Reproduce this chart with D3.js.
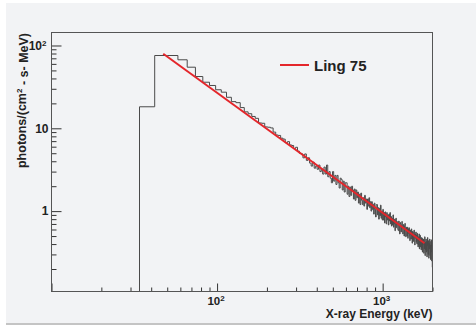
<!DOCTYPE html>
<html>
<head>
<meta charset="utf-8">
<script src="https://cdn.jsdelivr.net/npm/d3@7"></script>
<style>
  body { margin: 0; background: #fff; }
  text { font-family: "Liberation Sans", Arial, sans-serif; font-weight: bold; fill: #222; }
</style>
</head>
<body>
<div id="chart"></div>
<script>
// histogram: 8 keV bins starting at 10 keV
var binStart = 10, binWidth = 8;
var counts = [0, 0, 0,
  18.2, 75.7, 75.7, 67.2, 54.7, 42.2,
  36.0, 32.9, 29.2, 27.3, 23.7,
  21.0, 20.4, 17.8, 15.8, 15.0,
  13.9, 13.2, 11.6, 11.5, 10.4,
  10.3, 10.1, 9.0, 8.3, 8.2,
  7.6, 7.4, 6.7, 6.9, 6.3,
  6.2, 5.7, 5.9, 5.3, 5.0,
  4.9, 4.4, 4.9, 4.1, 4.4,
  3.8, 3.5, 3.9, 3.3, 3.5,
  3.2, 3.6, 3.0, 3.2, 2.8,
  3.4, 2.8, 3.6, 2.6, 3.0,
  2.5, 2.2, 3.0, 2.3, 2.7,
  2.1, 2.7, 2.2, 1.9, 2.5,
  2.4, 1.8, 2.3, 1.7, 2.2,
  2.2, 1.6, 2.0, 1.5, 1.95,
  1.55, 2.0, 1.8, 1.4, 1.85,
  1.35, 1.8, 1.45, 1.7, 1.25,
  1.6, 1.2, 1.65, 1.35, 1.2,
  1.45, 1.15, 1.55, 1.25, 1.4,
  1.05, 1.4, 1.15, 1.45, 1.1,
  1.3, 1.0, 1.3, 1.05, 1.2,
  0.92, 1.25, 1.05, 0.85, 1.2,
  1.2, 0.9, 1.1, 0.8, 1.08,
  0.88, 1.18, 0.82, 1.0, 0.78,
  1.05, 0.78, 0.96, 0.72, 0.98,
  0.85, 0.7, 0.96, 0.78, 0.9,
  0.68, 0.92, 0.76, 0.96, 0.7,
  0.86, 0.66, 0.82, 0.68, 0.9,
  0.64, 0.8, 0.7, 0.58, 0.8,
  0.82, 0.63, 0.75, 0.68, 0.6,
  0.58, 0.76, 0.68, 0.53, 0.73,
  0.7, 0.56, 0.66, 0.75, 0.58,
  0.53, 0.69, 0.62, 0.5, 0.67,
  0.71, 0.55, 0.49, 0.64, 0.57,
  0.5, 0.64, 0.47, 0.61, 0.54,
  0.63, 0.49, 0.44, 0.59, 0.52,
  0.46, 0.61, 0.52, 0.41, 0.57,
  0.56, 0.43, 0.5, 0.59, 0.45,
  0.39, 0.53, 0.47, 0.56, 0.42,
  0.51, 0.4, 0.54, 0.44, 0.37,
  0.49, 0.39, 0.53, 0.35, 0.46,
  0.51, 0.37, 0.44, 0.34, 0.48,
  0.36, 0.47, 0.32, 0.45, 0.4,
  0.46, 0.31, 0.42, 0.35, 0.49,
  0.29, 0.42, 0.34, 0.46, 0.32,
  0.43, 0.28, 0.38, 0.48, 0.33,
  0.3, 0.44, 0.27, 0.41, 0.35,
  0.46, 0.29, 0.39, 0.26, 0.43,
  0.32, 0.45, 0.25, 0.38, 0.21];

// Ling 75 power-law fit, end points
var lingE = [47.3, 1790];
var lingF = [79.4, 0.41];

var xDomain = [10, 2000];
var yDomain = [0.107, 143.5];
var xLabels = [{ v: 100, b: "10", e: "2" }, { v: 1000, b: "10", e: "3" }];
var yLabels = [{ v: 100, b: "10", e: "2" }, { v: 10, b: "10", e: "" }, { v: 1, b: "1", e: "" }];

var W = 476, H = 326;
var margin = { top: 32.5, left: 51.5, right: 43.5, bottom: 34.5 };
var width = W - margin.left - margin.right,
    height = H - margin.top - margin.bottom;

var svg = d3.select("#chart").append("svg")
  .attr("width", W)
  .attr("height", H);

// panel background
svg.append("rect").attr("x", 6).attr("y", 3).attr("width", W - 6).attr("height", 320).attr("fill", "#f2f3f5");
svg.append("line").attr("x1", 6).attr("x2", W).attr("y1", 324).attr("y2", 324)
  .attr("stroke", "#c4c4c4").attr("stroke-width", 2);

var x = d3.scaleLog().domain(xDomain).range([margin.left, margin.left + width]);
var y = d3.scaleLog().domain(yDomain).range([margin.top + height, margin.top]);

svg.append("clipPath").attr("id", "plot")
  .append("rect")
  .attr("x", margin.left).attr("y", margin.top)
  .attr("width", width).attr("height", height);

// histogram as steps
var pts = counts.map(function (c, i) { return [binStart + i * binWidth, c]; });
pts.push([binStart + counts.length * binWidth, counts[counts.length - 1]]);

var step = d3.line()
  .x(function (d) { return x(d[0]); })
  .y(function (d) { return d[1] > 0 ? y(d[1]) : y(yDomain[0]); })
  .curve(d3.curveStepAfter);

svg.append("path")
  .datum(pts)
  .attr("clip-path", "url(#plot)")
  .attr("d", step)
  .attr("fill", "none")
  .attr("stroke", "#4a4a4a")
  .attr("stroke-width", 1);

// fit line
var fit = d3.line()
  .x(function (d) { return x(d[0]); })
  .y(function (d) { return y(d[1]); });

svg.append("path")
  .datum(lingE.map(function (e, i) { return [e, lingF[i]]; }))
  .attr("d", fit)
  .attr("fill", "none")
  .attr("stroke", "#e4262b")
  .attr("stroke-width", 2);

// axes (ticks inward)
function isMajor(v) { return Math.abs(Math.log10(v) - Math.round(Math.log10(v))) < 1e-9; }
var yTicks = y.ticks();
var xTicks = x.ticks();

function styleAxis(g) {
  g.select(".domain").remove();
  g.selectAll(".tick line").attr("stroke", "#333");
}

svg.append("g").attr("transform", "translate(" + margin.left + ",0)")
  .call(d3.axisRight(y).tickValues(yTicks.filter(function (v) { return !isMajor(v); })).tickSize(5).tickFormat(""))
  .call(styleAxis);
svg.append("g").attr("transform", "translate(" + margin.left + ",0)")
  .call(d3.axisRight(y).tickValues(yTicks.filter(isMajor)).tickSize(10).tickFormat(""))
  .call(styleAxis);

svg.append("g").attr("transform", "translate(0," + (margin.top + height) + ")")
  .call(d3.axisTop(x).tickValues(xTicks.filter(function (v) { return !isMajor(v); })).tickSize(4).tickFormat(""))
  .call(styleAxis);
svg.append("g").attr("transform", "translate(0," + (margin.top + height) + ")")
  .call(d3.axisTop(x).tickValues(xTicks.filter(isMajor)).tickSize(8).tickFormat(""))
  .call(styleAxis);

// frame
svg.append("rect")
  .attr("x", margin.left).attr("y", margin.top)
  .attr("width", width).attr("height", height)
  .attr("fill", "none").attr("stroke", "#555");

// tick labels
function label(sel, d) {
  sel.append("tspan").text(d.b);
  if (d.e) sel.append("tspan").attr("dy", "-0.45em").style("font-size", "8px").text(d.e);
}

yLabels.forEach(function (d) {
  svg.append("text")
    .attr("x", margin.left - (d.e ? 5 : 3))
    .attr("y", y(d.v))
    .attr("dy", "0.36em")
    .attr("text-anchor", "end")
    .style("font-size", "12px")
    .call(label, d);
});

xLabels.forEach(function (d) {
  svg.append("text")
    .attr("x", x(d.v) - 1)
    .attr("y", margin.top + height + 13.5)
    .attr("text-anchor", "middle")
    .style("font-size", "11.5px")
    .call(label, d);
});

// axis titles
svg.append("text")
  .attr("x", margin.left + width)
  .attr("y", 317.5)
  .attr("text-anchor", "end")
  .style("font-size", "12px")
  .text("X-ray Energy (keV)");

var yt = svg.append("text")
  .attr("transform", "translate(26,33) rotate(-90)")
  .attr("text-anchor", "end")
  .style("font-size", "12.5px");
yt.append("tspan").text("photons/(cm");
yt.append("tspan").attr("dy", "-0.45em").style("font-size", "8px").text("2");
yt.append("tspan").attr("dy", "0.45em").text(" - s- MeV)");

// legend
svg.append("line")
  .attr("x1", 280).attr("x2", 309).attr("y1", 65).attr("y2", 65)
  .attr("stroke", "#e4262b").attr("stroke-width", 2);
svg.append("text")
  .attr("x", 314).attr("y", 71)
  .style("font-size", "15px")
  .text("Ling 75");
</script>
</body>
</html>
